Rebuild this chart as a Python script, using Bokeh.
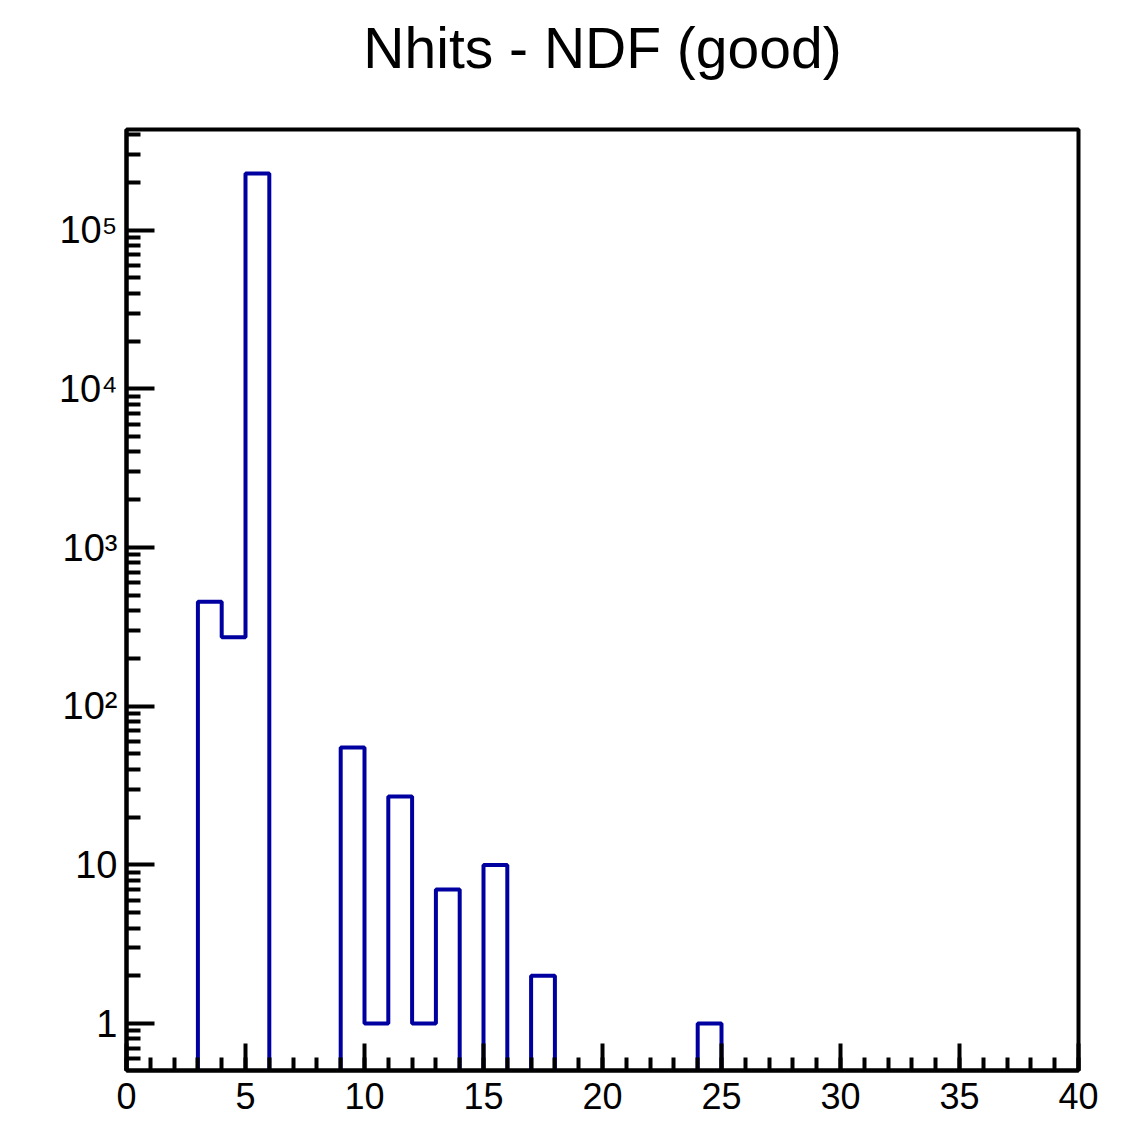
from bokeh.plotting import figure
from bokeh.models import FixedTicker, Range1d, Title
from bokeh.embed import file_html
from bokeh.resources import INLINE
import numpy as np

# Histogram: bin width 1 from 0 to 40
bin_edges = list(range(0, 41))
# non-zero bins (lower edge -> entries)
bin_low = [3, 4, 5, 9, 10, 11, 12, 13, 15, 17, 24]
bin_counts = [455, 272, 228000, 55, 1, 27, 1, 7, 10, 2, 1]

title_text = "Nhits - NDF (good)"
x_ticks = [0, 5, 10, 15, 20, 25, 30, 35, 40]
y_ticks = [1, 10, 100, 1000, 10000, 100000]
y_tick_labels = ["1", "10", "10\u00b2", "10\u00b3", "10\u2074", "10\u2075"]

# build step outline
counts = np.zeros(len(bin_edges) - 1)
for lo, c in zip(bin_low, bin_counts):
    counts[lo] = c
floor = 1e-3
vals = np.where(counts > 0, counts, floor)
xs, ys = [], []
prev = floor
for i, e in enumerate(bin_edges):
    nxt = vals[i] if i < len(vals) else floor
    xs += [e, e]
    ys += [prev, nxt]
    prev = nxt

FONT = "Liberation Sans"

p = figure(frame_width=952, frame_height=941,
           x_range=Range1d(0, 40), y_range=Range1d(0.506, 431000),
           y_axis_type="log", output_backend="svg", toolbar_location=None,
           min_border_left=126, min_border_right=49, min_border_top=0,
           min_border_bottom=69)
p.title = None

# spacer between title and frame (closest to frame), then the main title
spacer = Title(text=" ", text_font_size="1px", standoff=34)
main_title = Title(text=title_text, align="center", vertical_align="bottom",
                   text_font=FONT, text_font_size="57px",
                   text_font_style="normal", text_color="black",
                   offset=0, standoff=26)
p.add_layout(spacer, "above")
p.add_layout(main_title, "above")

p.grid.visible = False
p.background_fill_color = "white"
p.border_fill_color = "white"
p.outline_line_color = "black"
p.outline_line_width = 4

p.line(xs, ys, line_color="#0000a0", line_width=4)

xa = p.xaxis[0]
xa.ticker = FixedTicker(ticks=x_ticks, minor_ticks=[float(v) for v in range(0, 41)])
xa.major_tick_in = 27
xa.major_tick_out = 0
xa.minor_tick_in = 13
xa.minor_tick_out = 0
xa.major_tick_line_width = 4
xa.minor_tick_line_width = 4
xa.axis_line_width = 4
xa.major_label_text_font = FONT
xa.major_label_text_font_size = "36px"
xa.major_label_text_color = "black"
xa.major_label_standoff = 12

minor_y = []
for d in range(-1, 6):
    for m in range(2, 10):
        minor_y.append(m * 10.0 ** d)
ya = p.yaxis[0]
ya.ticker = FixedTicker(ticks=y_ticks, minor_ticks=minor_y)
ya.major_label_overrides = {t: lab for t, lab in zip(y_ticks, y_tick_labels)}
ya.major_tick_in = 28
ya.major_tick_out = 0
ya.minor_tick_in = 14
ya.minor_tick_out = 0
ya.major_tick_line_width = 4
ya.minor_tick_line_width = 4
ya.axis_line_width = 4
ya.major_label_text_font = FONT
ya.major_label_text_font_size = "38px"
ya.major_label_text_color = "black"
ya.major_label_standoff = 9

open("out.html", "w").write(file_html(p, INLINE))
